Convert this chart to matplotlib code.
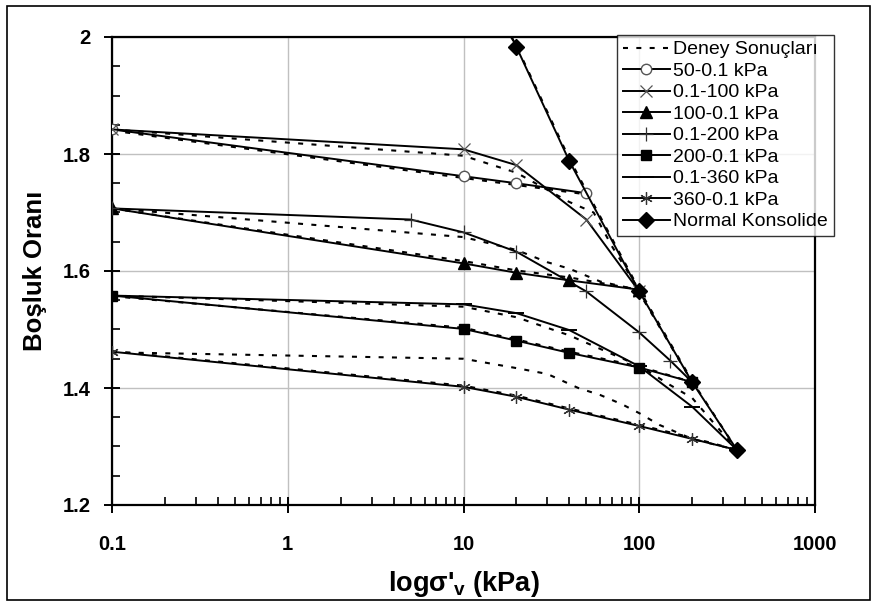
import matplotlib
matplotlib.use('Agg')
import matplotlib.pyplot as plt
from matplotlib.ticker import FixedLocator, MultipleLocator, NullFormatter, FixedFormatter
from matplotlib.patches import Rectangle
from matplotlib.lines import Line2D

plt.rcParams['font.family'] = ['Liberation Sans', 'DejaVu Sans']
plt.rcParams['mathtext.fontset'] = 'custom'
plt.rcParams['mathtext.rm'] = 'Liberation Sans:bold'
plt.rcParams['mathtext.it'] = 'Liberation Sans:bold'
plt.rcParams['mathtext.bf'] = 'Liberation Sans:bold'

# ---------------- data ----------------
# model lines
s50_x = [0.1, 10, 20, 50]
s50_y = [1.842, 1.762, 1.750, 1.733]
l100_x = [0.1, 10, 20, 50, 100]
l100_y = [1.842, 1.808, 1.781, 1.688, 1.565]
u100_x = [0.1, 10, 20, 40, 100]
u100_y = [1.707, 1.613, 1.597, 1.584, 1.568]
l200_x = [0.1, 5, 10, 20, 50, 100, 150, 200]
l200_y = [1.707, 1.688, 1.666, 1.633, 1.565, 1.495, 1.447, 1.410]
u200_x = [0.1, 10, 20, 40, 100, 200]
u200_y = [1.558, 1.501, 1.481, 1.460, 1.435, 1.410]
l360_x = [0.1, 10, 20, 40, 100, 200, 360]
l360_y = [1.558, 1.543, 1.528, 1.499, 1.437, 1.368, 1.294]
u360_x = [0.1, 10, 20, 40, 100, 200, 360]
u360_y = [1.462, 1.402, 1.385, 1.363, 1.335, 1.313, 1.294]
nc_x = [10, 20, 40, 100, 200, 360]
nc_y = [2.178, 1.983, 1.788, 1.565, 1.410, 1.294]

# experimental results (dotted)
d1_x = [0.1, 10, 20, 40, 55, 70, 100]
d1_y = [1.842, 1.797, 1.768, 1.718, 1.700, 1.642, 1.567]
d2_x = [0.1, 10, 20, 50]
d2_y = [1.840, 1.759, 1.747, 1.731]
d3_x = [0.1, 10, 20, 30, 40, 60, 85, 100, 200]
d3_y = [1.707, 1.658, 1.636, 1.615, 1.604, 1.582, 1.572, 1.563, 1.410]
d4_x = [0.1, 10, 20, 40, 100]
d4_y = [1.707, 1.617, 1.601, 1.589, 1.568]
d5_x = [0.1, 10, 20, 40, 70, 100, 150, 200, 360]
d5_y = [1.558, 1.539, 1.521, 1.490, 1.458, 1.438, 1.405, 1.383, 1.294]
d6_x = [0.1, 10, 20, 40, 100, 200]
d6_y = [1.557, 1.503, 1.483, 1.462, 1.437, 1.410]
d7_x = [0.1, 10, 20, 30, 45, 60, 80, 100, 130, 200, 360]
d7_y = [1.461, 1.450, 1.434, 1.424, 1.400, 1.388, 1.372, 1.357, 1.337, 1.313, 1.294]
d8_x = [0.1, 10, 20, 40, 100, 200, 360]
d8_y = [1.463, 1.404, 1.387, 1.365, 1.337, 1.315, 1.294]
d9_x = [17, 20, 40, 100, 200, 360]
d9_y = [2.020, 1.985, 1.792, 1.568, 1.412, 1.294]

x_ticks = [0.1, 1, 10, 100, 1000]
x_tick_labels = ['0.1', '1', '10', '100', '1000']
y_ticks = [1.2, 1.4, 1.6, 1.8, 2.0]
y_tick_labels = ['1.2', '1.4', '1.6', '1.8', '2']

labels = ['Deney Sonuçları', '50-0.1 kPa', '0.1-100 kPa', '100-0.1 kPa',
          '0.1-200 kPa', '200-0.1 kPa', '0.1-360 kPa', '360-0.1 kPa',
          'Normal Konsolide']

# ---------------- figure ----------------
W, H = 877, 606
fig = plt.figure(figsize=(W / 100, H / 100), dpi=100)
L, R, T, B = 112, 815, 37, 505
ax = fig.add_axes([L / W, (H - B) / H, (R - L) / W, (B - T) / H])

LW = 1.4
dash = (0, (2.4, 4.0))
dots = [(d1_x, d1_y), (d2_x, d2_y), (d3_x, d3_y), (d4_x, d4_y), (d5_x, d5_y),
        (d6_x, d6_y), (d7_x, d7_y), (d8_x, d8_y), (d9_x, d9_y)]
for dx, dy in dots:
    ax.plot(dx, dy, color='black', lw=1.5, linestyle=dash, zorder=2)

ast = (6, 2, 0)
h = []
h.append(ax.plot(s50_x, s50_y, color='black', lw=LW, marker='o', ms=7.5,
                 mfc='white', mec='#555555', mew=1.0, zorder=3)[0])
h.append(ax.plot(l100_x, l100_y, color='black', lw=LW, marker='x', ms=8.5,
                 mec='#555555', mew=0.9, zorder=3)[0])
h.append(ax.plot(u100_x, u100_y, color='black', lw=LW, marker='^', ms=9,
                 mfc='black', mec='black', zorder=3)[0])
h.append(ax.plot(l200_x, l200_y, color='black', lw=LW, marker='+', ms=10,
                 mec='#333333', mew=0.9, zorder=3)[0])
h.append(ax.plot(u200_x, u200_y, color='black', lw=LW, marker='s', ms=7,
                 mfc='black', mec='black', zorder=3)[0])
h.append(ax.plot(l360_x, l360_y, color='black', lw=LW, marker='_', ms=11,
                 mec='black', mew=1.4, zorder=3)[0])
h.append(ax.plot(u360_x, u360_y, color='black', lw=LW, marker=ast, ms=9,
                 mec='#333333', mew=0.9, zorder=3)[0])
h.append(ax.plot(nc_x, nc_y, color='black', lw=LW, marker='D', ms=8,
                 mfc='black', mec='black', zorder=3)[0])

ax.set_xscale('log')
ax.set_xlim(0.1, 1000)
ax.set_ylim(1.2, 2.0)
ax.xaxis.set_major_locator(FixedLocator(x_ticks))
ax.xaxis.set_major_formatter(FixedFormatter(x_tick_labels))
ax.xaxis.set_minor_locator(FixedLocator(
    [m * 10.0 ** e for e in range(-1, 3) for m in range(2, 10)]))
ax.xaxis.set_minor_formatter(NullFormatter())
ax.yaxis.set_major_locator(FixedLocator(y_ticks))
ax.yaxis.set_major_formatter(FixedFormatter(y_tick_labels))
ax.yaxis.set_minor_locator(MultipleLocator(0.05))

ax.grid(True, which='major', color='#c0c0c0', lw=1.0, zorder=0)
ax.set_axisbelow(True)
for s in ax.spines.values():
    s.set_linewidth(1.6)
    s.set_color('black')

ax.tick_params(which='major', direction='inout', length=11, width=1.4,
               labelsize=14.5, colors='black')
ax.tick_params(axis='x', which='major', pad=16)
ax.tick_params(axis='y', which='major', pad=10)
ax.tick_params(which='minor', direction='in', length=6, width=1.2)
for lab in ax.get_xticklabels() + ax.get_yticklabels():
    lab.set_fontweight('bold')

ax.set_xlabel("logσ'$_{\\mathrm{v}}$ (kPa)", fontsize=19.5, fontweight='bold',
              labelpad=11)
ax.set_ylabel('Boşluk Oranı', fontsize=18.5, fontweight='bold', labelpad=11)

dot_handle = Line2D([], [], color='black', lw=1.5, linestyle=dash)
leg = fig.legend([dot_handle] + h, labels, loc='upper left',
                 bbox_to_anchor=(617 / W, (H - 35) / H),
                 bbox_transform=fig.transFigure, fontsize=14,
                 frameon=True, fancybox=False, shadow=False,
                 borderaxespad=0, borderpad=0.3, labelspacing=0.2,
                 handlelength=2.4, handletextpad=0.2)
leg.get_frame().set_edgecolor('black')
leg.get_frame().set_linewidth(1.0)

fig.patches.append(Rectangle((7 / W, 6 / H), (870 - 7) / W, (600 - 6) / H,
                             transform=fig.transFigure, fill=False,
                             edgecolor='black', lw=1.2))

fig.savefig('out.png', dpi=100)
